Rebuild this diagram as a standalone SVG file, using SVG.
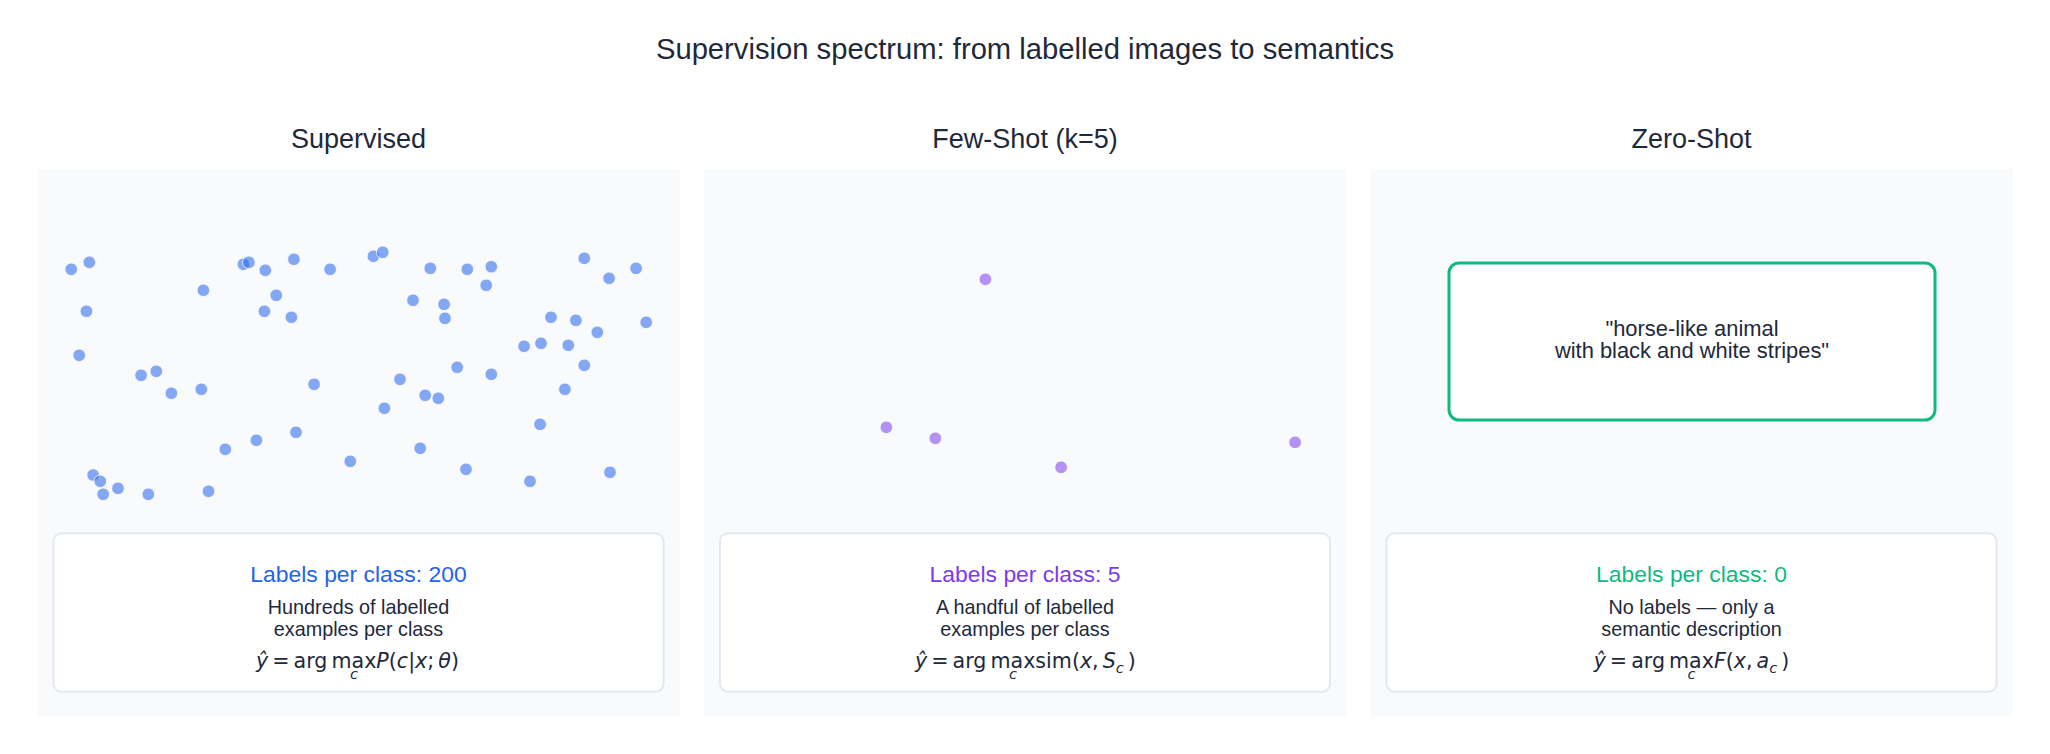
<svg xmlns="http://www.w3.org/2000/svg" width="2050" height="754" viewBox="0 0 2050 754">
<style>
.txt{font-family:"Liberation Sans",Arial,sans-serif;fill:#1e293b}
.title{font-size:29.2px}
.sub{font-size:27px}
.lab{font-size:22.9px}
.desc{font-size:19.8px}
.math{font-family:"DejaVu Sans",sans-serif;font-size:20.6px;fill:#1e293b;word-spacing:-2.5px}
.it{font-style:italic}
.panel{fill:#f8fafc}
.lbox{fill:#ffffff;stroke:#e2e8f0;stroke-width:2}
.d1{fill:#2563eb;fill-opacity:0.55;stroke:#ffffff;stroke-width:0.8}
.d2{fill:#7c3aed;fill-opacity:0.55;stroke:#ffffff;stroke-width:0.8}
</style>
<rect width="2050" height="754" fill="#ffffff"/>
<text class="txt title" x="1025" y="59.3" text-anchor="middle">Supervision spectrum: from labelled images to semantics</text>

<g id="supervised">
<text class="txt sub" x="358.5" y="148.3" text-anchor="middle">Supervised</text>
<rect class="panel" x="37.5" y="169" width="642" height="547"/>
<g id="supervised-points">
<circle class="d1" cx="71.2" cy="269.3" r="6.3"/>
<circle class="d1" cx="89.3" cy="262.3" r="6.3"/>
<circle class="d1" cx="243.4" cy="264.3" r="6.3"/>
<circle class="d1" cx="248.9" cy="262.3" r="6.3"/>
<circle class="d1" cx="265.3" cy="270.3" r="6.3"/>
<circle class="d1" cx="293.9" cy="259.3" r="6.3"/>
<circle class="d1" cx="330.1" cy="269.3" r="6.3"/>
<circle class="d1" cx="373.4" cy="256.3" r="6.3"/>
<circle class="d1" cx="382.7" cy="252.3" r="6.3"/>
<circle class="d1" cx="430.3" cy="268.3" r="6.3"/>
<circle class="d1" cx="467.3" cy="269.3" r="6.3"/>
<circle class="d1" cx="491.3" cy="266.7" r="6.3"/>
<circle class="d1" cx="584.3" cy="258.3" r="6.3"/>
<circle class="d1" cx="636.1" cy="268.3" r="6.3"/>
<circle class="d1" cx="609.1" cy="278.3" r="6.3"/>
<circle class="d1" cx="203.4" cy="290.3" r="6.3"/>
<circle class="d1" cx="276.2" cy="295.3" r="6.3"/>
<circle class="d1" cx="486.2" cy="285.3" r="6.3"/>
<circle class="d1" cx="413.0" cy="300.3" r="6.3"/>
<circle class="d1" cx="444.1" cy="304.3" r="6.3"/>
<circle class="d1" cx="86.4" cy="311.3" r="6.3"/>
<circle class="d1" cx="264.4" cy="311.3" r="6.3"/>
<circle class="d1" cx="291.4" cy="317.3" r="6.3"/>
<circle class="d1" cx="445.0" cy="318.3" r="6.3"/>
<circle class="d1" cx="551.0" cy="317.3" r="6.3"/>
<circle class="d1" cx="575.9" cy="320.3" r="6.3"/>
<circle class="d1" cx="646.2" cy="322.3" r="6.3"/>
<circle class="d1" cx="597.3" cy="332.3" r="6.3"/>
<circle class="d1" cx="79.2" cy="355.3" r="6.3"/>
<circle class="d1" cx="524.1" cy="346.3" r="6.3"/>
<circle class="d1" cx="541.0" cy="343.3" r="6.3"/>
<circle class="d1" cx="568.3" cy="345.3" r="6.3"/>
<circle class="d1" cx="457.2" cy="367.3" r="6.3"/>
<circle class="d1" cx="584.3" cy="365.3" r="6.3"/>
<circle class="d1" cx="141.1" cy="375.3" r="6.3"/>
<circle class="d1" cx="156.3" cy="371.3" r="6.3"/>
<circle class="d1" cx="400.0" cy="379.3" r="6.3"/>
<circle class="d1" cx="491.3" cy="374.3" r="6.3"/>
<circle class="d1" cx="171.4" cy="393.3" r="6.3"/>
<circle class="d1" cx="201.3" cy="389.3" r="6.3"/>
<circle class="d1" cx="314.1" cy="384.3" r="6.3"/>
<circle class="d1" cx="425.2" cy="395.3" r="6.3"/>
<circle class="d1" cx="438.3" cy="398.3" r="6.3"/>
<circle class="d1" cx="564.9" cy="389.3" r="6.3"/>
<circle class="d1" cx="384.4" cy="408.3" r="6.3"/>
<circle class="d1" cx="540.1" cy="424.3" r="6.3"/>
<circle class="d1" cx="296.0" cy="432.3" r="6.3"/>
<circle class="d1" cx="256.4" cy="440.3" r="6.3"/>
<circle class="d1" cx="225.3" cy="449.3" r="6.3"/>
<circle class="d1" cx="420.2" cy="448.3" r="6.3"/>
<circle class="d1" cx="350.3" cy="461.3" r="6.3"/>
<circle class="d1" cx="466.0" cy="469.3" r="6.3"/>
<circle class="d1" cx="93.1" cy="475.0" r="6.3"/>
<circle class="d1" cx="100.3" cy="481.3" r="6.3"/>
<circle class="d1" cx="118.0" cy="488.3" r="6.3"/>
<circle class="d1" cx="103.2" cy="494.3" r="6.3"/>
<circle class="d1" cx="148.3" cy="494.3" r="6.3"/>
<circle class="d1" cx="208.5" cy="491.3" r="6.3"/>
<circle class="d1" cx="530.0" cy="481.3" r="6.3"/>
<circle class="d1" cx="610.0" cy="472.3" r="6.3"/>
</g>
<rect class="lbox" x="53.5" y="533.3" width="610" height="158.4" rx="8"/>
<text class="txt lab" x="358.5" y="581.7" text-anchor="middle" style="fill:#2563eb">Labels per class: 200</text>
<text class="txt desc" x="358.5" y="614.3" text-anchor="middle">Hundreds of labelled</text>
<text class="txt desc" x="358.5" y="635.7" text-anchor="middle">examples per class</text>
<text class="math" x="357.5" y="668.3" text-anchor="middle"><tspan class="it">ŷ</tspan> = arg m<tspan class="it" font-size="14.6" dx="-1.5" dy="10.7">c</tspan><tspan dx="-6.5" dy="-10.7">ax</tspan><tspan class="it">P</tspan>(<tspan class="it">c</tspan>|<tspan class="it">x</tspan>; <tspan class="it">θ</tspan>)</text>
</g>

<g id="few-shot">
<text class="txt sub" x="1025" y="148.3" text-anchor="middle">Few-Shot (k=5)</text>
<rect class="panel" x="704" y="169" width="642" height="547"/>
<g id="few-shot-points">
<circle class="d2" cx="985.4" cy="279.3" r="6.3"/>
<circle class="d2" cx="886.4" cy="427.3" r="6.3"/>
<circle class="d2" cx="935.3" cy="438.3" r="6.3"/>
<circle class="d2" cx="1061.1" cy="467.3" r="6.3"/>
<circle class="d2" cx="1295.1" cy="442.3" r="6.3"/>
</g>
<rect class="lbox" x="720" y="533.3" width="610" height="158.4" rx="8"/>
<text class="txt lab" x="1025" y="581.7" text-anchor="middle" style="fill:#7c3aed">Labels per class: 5</text>
<text class="txt desc" x="1025" y="614.3" text-anchor="middle">A handful of labelled</text>
<text class="txt desc" x="1025" y="635.7" text-anchor="middle">examples per class</text>
<text class="math" x="1025.5" y="668.3" text-anchor="middle"><tspan class="it">ŷ</tspan> = arg m<tspan class="it" font-size="14.6" dx="-1.5" dy="10.7">c</tspan><tspan dx="-6.5" dy="-10.7">axsim(</tspan><tspan class="it">x</tspan>, <tspan class="it">S</tspan><tspan class="it" font-size="14.6" dy="4.5">c</tspan><tspan dy="-4.5"> )</tspan></text>
</g>

<g id="zero-shot">
<text class="txt sub" x="1691.5" y="148.3" text-anchor="middle">Zero-Shot</text>
<rect class="panel" x="1370.5" y="169" width="642" height="547"/>
<g id="semantic-description">
<rect x="1449" y="263" width="486" height="157" rx="10" fill="#ffffff" stroke="#10b981" stroke-width="3"/>
<text class="txt" font-size="21.9" x="1692" y="335.7" text-anchor="middle">"horse-like animal</text>
<text class="txt" font-size="21.9" x="1692" y="358.3" text-anchor="middle">with black and white stripes"</text>
</g>
<rect class="lbox" x="1386.5" y="533.3" width="610" height="158.4" rx="8"/>
<text class="txt lab" x="1691.5" y="581.7" text-anchor="middle" style="fill:#10b981">Labels per class: 0</text>
<text class="txt desc" x="1691.5" y="614.3" text-anchor="middle">No labels — only a</text>
<text class="txt desc" x="1691.5" y="635.7" text-anchor="middle">semantic description</text>
<text class="math" x="1691.5" y="668.3" text-anchor="middle"><tspan class="it">ŷ</tspan> = arg m<tspan class="it" font-size="14.6" dx="-1.5" dy="10.7">c</tspan><tspan dx="-6.5" dy="-10.7">ax</tspan><tspan class="it">F</tspan>(<tspan class="it">x</tspan>, <tspan class="it">a</tspan><tspan class="it" font-size="14.6" dy="4.5">c</tspan><tspan dy="-4.5"> )</tspan></text>
</g>
</svg>
